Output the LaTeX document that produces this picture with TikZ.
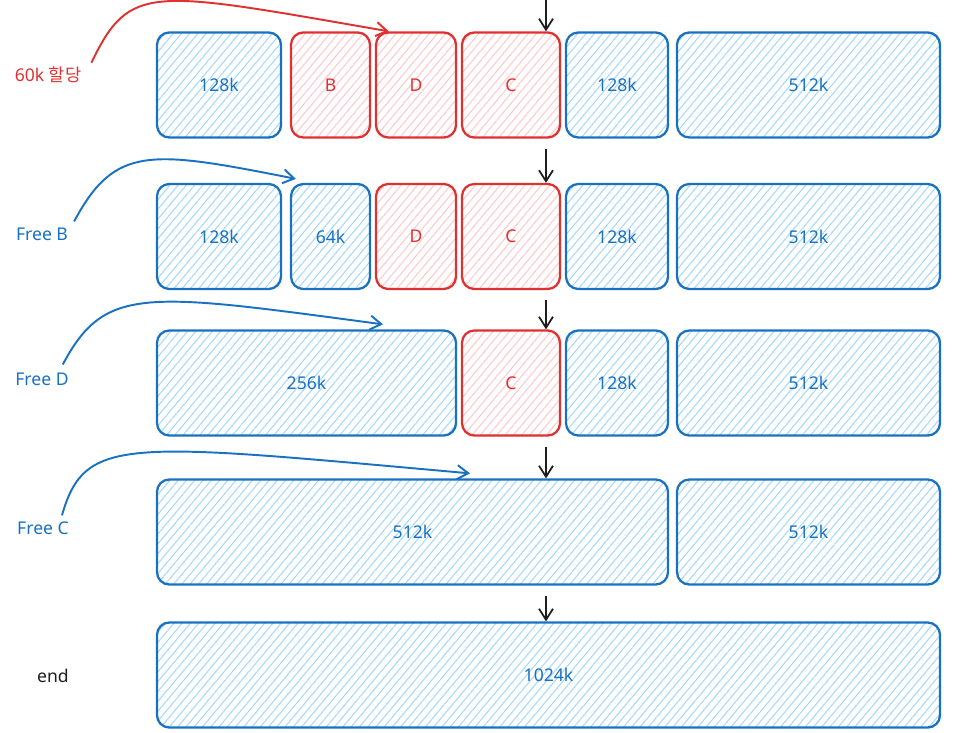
\documentclass[tikz,border=0pt]{standalone}
\usepackage{fontspec}
\setmainfont{Noto Sans}
\newfontfamily\kofont{Noto Sans CJK KR}
\usetikzlibrary{arrows.meta,patterns.meta}
\definecolor{lineblue}{HTML}{1971C2}
\definecolor{hatchblue}{HTML}{A5D8FF}
\definecolor{linered}{HTML}{E03131}
\definecolor{hatchred}{HTML}{FFC9C9}
\definecolor{ink}{HTML}{1E1E1E}

\begin{document}
\begin{tikzpicture}[>={Straight Barb[length=2.2mm,width=2.8mm]},
  every node/.style={font=\fontsize{10}{12}\selectfont},
  blk/.style={draw=lineblue,line width=1.3pt,rounded corners=7pt,
    pattern={Lines[angle=50,distance=3.6pt,line width=0.6pt]},pattern color=hatchblue,
    text=lineblue,minimum height=2.1cm,inner sep=0pt},
  used/.style={blk,draw=linered,pattern color=hatchred,text=linered},
  flow/.style={->,line width=1pt,draw=ink},
  note/.style={->,line width=1.1pt}]
\useasboundingbox (0,0) rectangle (19.06,-14.64);

% allocate 60k
\node[blk,minimum width=2.48cm] (a1) at (4.38,-1.7) {128k};
\node[used,minimum width=1.58cm] (b1) at (6.61,-1.7) {B};
\node[used,minimum width=1.6cm] (d1) at (8.32,-1.7) {D};
\node[used,minimum width=1.96cm] (c1) at (10.22,-1.7) {C};
\node[blk,minimum width=2.04cm] (e1) at (12.34,-1.7) {128k};
\node[blk,minimum width=5.26cm] (f1) at (16.17,-1.7) {512k};
\node[text=linered] (lab1) at (0.96,-1.5) {60k {\kofont 할당}};

% free B
\node[blk,minimum width=2.48cm] (a2) at (4.38,-4.73) {128k};
\node[blk,minimum width=1.58cm] (b2) at (6.61,-4.73) {64k};
\node[used,minimum width=1.6cm] (d2) at (8.32,-4.73) {D};
\node[used,minimum width=1.96cm] (c2) at (10.22,-4.73) {C};
\node[blk,minimum width=2.04cm] (e2) at (12.34,-4.73) {128k};
\node[blk,minimum width=5.26cm] (f2) at (16.17,-4.73) {512k};
\node[text=lineblue] (lab2) at (0.84,-4.68) {Free B};

% free D
\node[blk,minimum width=5.98cm] (a3) at (6.13,-7.66) {256k};
\node[used,minimum width=1.96cm] (c3) at (10.22,-7.66) {C};
\node[blk,minimum width=2.04cm] (e3) at (12.34,-7.66) {128k};
\node[blk,minimum width=5.26cm] (f3) at (16.17,-7.66) {512k};
\node[text=lineblue] (lab3) at (0.84,-7.58) {Free D};

% free C
\node[blk,minimum width=10.22cm] (a4) at (8.25,-10.64) {512k};
\node[blk,minimum width=5.26cm] (f4) at (16.17,-10.64) {512k};
\node[text=lineblue] (lab4) at (0.86,-10.56) {Free C};

% end
\node[blk,minimum width=15.66cm] (a5) at (10.97,-13.5) {1024k};
\node[text=ink] (lab5) at (1.06,-13.52) {end};

% step arrows
\coordinate (top) at (10.92,0);
\draw[flow] (top) -- (top |- c1.north);
\draw[flow] ([yshift=-2mm]top |- c1.south) -- (top |- c2.north);
\draw[flow] ([yshift=-2mm]top |- c2.south) -- (top |- c3.north);
\draw[flow] ([yshift=-2mm]top |- c3.south) -- (top |- a4.north);
\draw[flow] ([yshift=-2mm]top |- a4.south) -- (top |- a5.north);

% labels to blocks
\draw[note,draw=linered] ([xshift=0.8mm,yshift=-0.4mm]lab1.north east)
  .. controls (2.6,0.35) and (3.0,0.2) .. ([xshift=2.8mm]d1.north west);
\draw[note,draw=lineblue] (lab2.north east)
  .. controls (2.3,-2.9) and (3.0,-3.0) .. ([xshift=1.2mm,yshift=0.8mm]b2.north west);
\draw[note,draw=lineblue] ([xshift=-2.4mm,yshift=0.4mm]lab3.north east)
  .. controls (2.1,-5.7) and (2.9,-5.85) .. ([xshift=15.3mm,yshift=1mm]a3.north);
\draw[note,draw=lineblue] ([xshift=-2.6mm]lab4.north east)
  .. controls (1.7,-8.7) and (2.5,-8.85) .. ([xshift=11.5mm,yshift=1mm]a4.north);
\end{tikzpicture}
\end{document}
